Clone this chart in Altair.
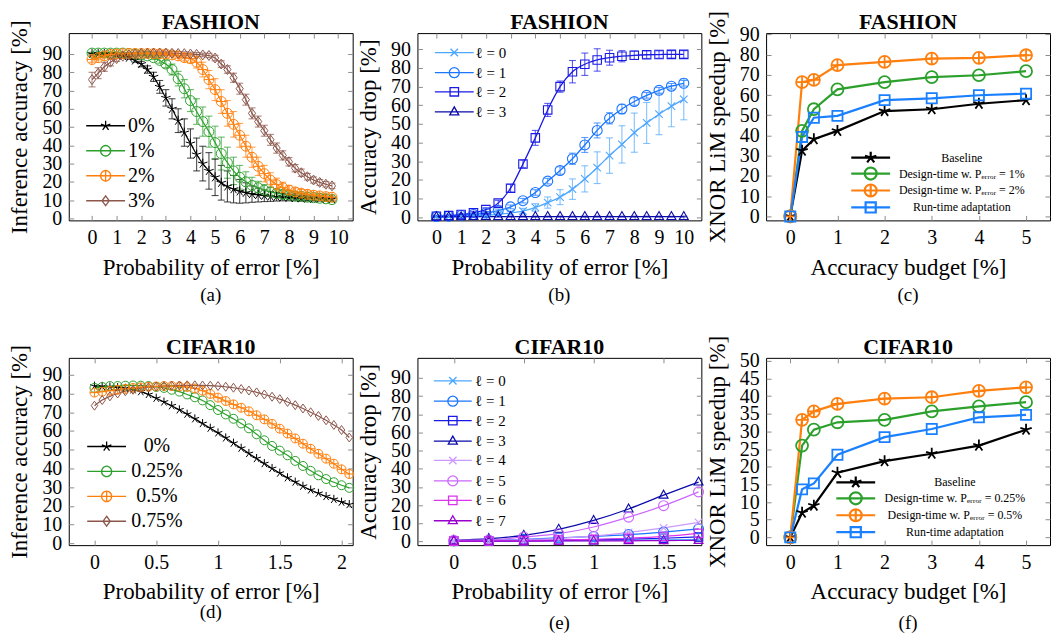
import altair as alt
import pandas as pd

FONT = "Liberation Serif"
W, H = 285, 188
TICK = 5

# ---------------- data ----------------
XA = [0, 0.25, 0.5, 0.75, 1, 1.25, 1.5, 1.75, 2, 2.25, 2.5, 2.75, 3, 3.25, 3.5, 3.75,
      4, 4.25, 4.5, 4.75, 5, 5.25, 5.5, 5.75, 6, 6.25, 6.5, 6.75, 7, 7.25, 7.5, 7.75,
      8, 8.25, 8.5, 8.75, 9, 9.25, 9.5, 9.75]
A_NAMES = ["0%", "1%", "2%", "3%"]
A0 = [90, 90, 90, 90, 89.5, 89, 88, 86.5, 84.5, 81.5, 77.5, 72, 66, 60, 53.5, 47, 41, 35, 30, 26,
      22.5, 19.5, 17.5, 16, 14.8, 14, 13.3, 12.8, 12.4, 12, 11.8, 11.6, 11.4, 11.2, 11, 10.9, 10.8, 10.7, 10.6, 10.5]
A0E = [0.5, 0.5, 0.5, 0.5, 0.6, 0.7, 0.8, 1.0, 1.5, 2, 2.5, 3.5, 4.5, 5.5, 6.5, 7.5, 8, 9, 9.5, 10,
       10, 9.5, 8.5, 7.5, 6.5, 5.5, 4.5, 3.8, 3.2, 2.7, 2.3, 2, 1.8, 1.6, 1.5, 1.4, 1.3, 1.2, 1.2, 1.1]
A1 = [90.5, 90.5, 90.5, 90.5, 90.5, 90.5, 90.3, 90, 89.5, 89, 88, 86.5, 84.5, 81.5, 76.5, 71, 64.5, 58.5, 53, 47.5,
      41.5, 35.5, 30.5, 26, 22.5, 20, 18, 16.8, 15.5, 14.5, 13.8, 13.2, 12.7, 12.3, 12, 11.6, 11.3, 11, 10.7, 10.3]
A1E = [0.5, 0.5, 0.5, 0.5, 0.5, 0.5, 0.5, 0.5, 0.6, 0.8, 1, 1.5, 2, 3, 4, 5, 6, 7, 8, 8.5,
       9, 9, 8.5, 7.5, 6.5, 5.5, 4.5, 3.5, 3, 2.5, 2.2, 2, 1.8, 1.6, 1.5, 1.4, 1.3, 1.2, 1.2, 1.1]
A2 = [87, 88, 89, 89.7, 90, 90.2, 90.3, 90.3, 90.3, 90.3, 90.2, 90.1, 90, 89.5, 89, 88, 87.5, 85.5, 81.5, 76,
      70.5, 64, 57.5, 51.5, 45.5, 39.5, 33.5, 28.5, 24.5, 21, 18.5, 16.8, 15.5, 14.5, 13.8, 13.2, 12.7, 12.3, 11.9, 11.6]
A2E = [1.5, 1.2, 1, 0.8, 0.6, 0.5, 0.5, 0.5, 0.5, 0.5, 0.6, 0.7, 0.8, 1, 1.3, 1.8, 2.5, 3.2, 4, 5,
       6, 6.5, 7, 7, 6.5, 6, 5.5, 5, 4.5, 4, 3.5, 3, 2.5, 2.2, 2, 1.8, 1.6, 1.5, 1.4, 1.3]
A3 = [76, 79.5, 83, 85.5, 87.5, 88.8, 89.5, 90, 90.3, 90.4, 90.5, 90.5, 90.5, 90.4, 90.3, 90.2, 90, 89.8, 89.5, 89.2,
      87.8, 84.5, 81.5, 77, 71, 65, 57.5, 53, 48, 43, 38.5, 34.5, 31, 27.5, 25, 22.8, 21, 19.7, 18.7, 17.8]
A3E = [4, 3, 2.5, 2, 1.5, 1.2, 1, 1, 1, 1, 1, 1, 1, 1, 1, 1, 1, 1, 1, 1.2,
       1.5, 1.8, 2, 2.5, 3, 3, 3, 3, 3, 3, 2.8, 2.5, 2.3, 2, 2, 1.8, 1.7, 1.6, 1.5, 1.5]

XB = [0, 0.5, 1, 1.5, 2, 2.5, 3, 3.5, 4, 4.5, 5, 5.5, 6, 6.5, 7, 7.5, 8, 8.5, 9, 9.5, 10]
B_NAMES = ["ℓ = 0", "ℓ = 1", "ℓ = 2", "ℓ = 3"]
B0 = [0.2, 0.3, 0.5, 0.7, 1.0, 1.5, 2.2, 3.2, 5.2, 7.8, 10.7, 15, 20.5, 26.5, 33, 39, 45.3, 50.5, 55.2, 59.5, 63.2]
B0E = [0.2, 0.2, 0.3, 0.4, 0.5, 0.7, 1, 1.5, 2, 3, 4, 5.5, 7, 8.5, 9.5, 10, 10.5, 11, 11, 11, 11]
B1 = [0.3, 0.5, 0.9, 1.4, 2.2, 3.5, 5.5, 8.8, 13.2, 19.3, 25, 31.3, 38.7, 46.5, 53, 58, 62, 65.3, 68, 70.2, 71.8]
B1E = [0.3, 0.3, 0.4, 0.5, 0.6, 0.8, 1, 1.2, 1.5, 1.5, 2, 3, 4, 4, 3, 2.5, 2, 1.5, 1.5, 1.5, 1.5]
B2 = [0.5, 0.8, 1.4, 2.3, 4.0, 7.5, 15.5, 28.5, 42.5, 57.5, 70, 78, 82, 84.3, 85.5, 86.3, 86.8, 87.1, 87.2, 87.3, 87.3]
B2E = [0.5, 0.5, 0.6, 0.8, 1, 1.5, 2, 2, 4, 3.5, 3, 6, 6, 6, 4, 3, 2.2, 2, 2, 2, 2]
B3 = [0.2, 0.2, 0.2, 0.3, 0.3, 0.3, 0.3, 0.3, 0.3, 0.3, 0.3, 0.3, 0.3, 0.3, 0.3, 0.3, 0.3, 0.3, 0.3, 0.3, 0.3]
B3E = [0.2, 0.2, 0.2, 0.2, 0.2, 0.2, 0.2, 0.2, 0.2, 0.2, 0.2, 0.2, 0.2, 0.2, 0.2, 0.2, 0.2, 0.2, 0.2, 0.2, 0.2]

XC = [0, 0.25, 0.5, 1, 2, 3, 4, 5]
C_NAMES = ["Baseline", "Design-time w. Pₑᵣᵣₒᵣ = 1%", "Design-time w. Pₑᵣᵣₒᵣ = 2%", "Run-time adaptation"]
C0 = [0, 32.5, 38.2, 42.3, 52.1, 53, 55.7, 57.5]
C1 = [0, 42.3, 53, 62.8, 66.4, 68.9, 69.8, 71.8]
C2 = [0, 66.4, 67.5, 74.8, 76.4, 78, 78.4, 79.7]
C3 = [0, 39.3, 48.8, 49.7, 57.5, 58.4, 59.9, 60.7]

XD = [0, 0.0625, 0.125, 0.1875, 0.25, 0.3125, 0.375, 0.4375, 0.5, 0.5625, 0.625, 0.6875,
      0.75, 0.8125, 0.875, 0.9375, 1.0, 1.0625, 1.125, 1.1875, 1.25, 1.3125, 1.375, 1.4375,
      1.5, 1.5625, 1.625, 1.6875, 1.75, 1.8125, 1.875, 1.9375, 2.0, 2.0625]
D_NAMES = ["0%", "0.25%", "0.5%", "0.75%"]
D0 = [84, 83.8, 83.5, 83.2, 82.8, 82, 81, 79.5, 77.5, 75.5, 73.5, 71.3, 69, 66.5, 64, 61.5, 59,
      56.3, 53.5, 50.8, 48, 45.3, 42.6, 40, 37.5, 35, 32.7, 30.5, 28.5, 26.7, 25, 23.5, 22, 20.7]
D1 = [83, 83.5, 84, 84, 84.2, 84.3, 84.2, 84, 83.5, 83, 82, 81, 79.5, 78, 76.3, 73.8, 71.2,
      68.8, 66.5, 64, 61.4, 58.2, 55, 52, 49.5, 47, 44, 41.3, 38.7, 36.3, 34.3, 32.6, 31, 29.6]
D2 = [80.5, 81, 81.5, 82, 82.5, 83, 83.3, 83.6, 83.8, 84, 84, 83.8, 83.5, 82.7, 81.5, 79.8, 77.8,
      76, 74.2, 72.4, 70.5, 68.4, 66.2, 63.8, 61.2, 58.6, 56, 53.2, 50.5, 47.8, 45.2, 42.5, 39.5, 37]
D3 = [73.5, 76.5, 78.5, 80, 81.2, 82, 82.8, 83.3, 83.7, 84, 84.2, 84.3, 84.4, 84.4, 84.3, 84.2, 84,
      83.6, 83.1, 82.4, 81.6, 80.6, 79.5, 78.3, 77, 75.5, 73.8, 72, 70, 68, 65.7, 63.2, 60.5, 56.5]

XE = [0, 0.25, 0.5, 0.75, 1, 1.25, 1.5, 1.75]
E_NAMES = ["ℓ = 0", "ℓ = 1", "ℓ = 2", "ℓ = 3", "ℓ = 4", "ℓ = 5", "ℓ = 6", "ℓ = 7"]
E0 = [0.2, 0.2, 0.3, 0.4, 0.5, 0.7, 0.9, 1.2]
E1 = [0.3, 0.6, 1.2, 2.0, 2.8, 3.8, 5.2, 6.9]
E2 = [0.2, 0.3, 0.5, 0.7, 1.0, 1.3, 1.8, 2.5]
E3 = [0.7, 1.6, 3.4, 6.7, 11.6, 17.9, 25.5, 32.7]
E4 = [0.3, 0.5, 1.0, 1.8, 3.0, 5.0, 7.5, 10.5]
E5 = [0.7, 0.8, 2.5, 4.3, 8.0, 13.4, 19.7, 27.3]
E6 = [0.2, 0.3, 0.5, 0.8, 1.2, 1.8, 2.8, 4.5]
E7 = [0.2, 0.2, 0.2, 0.3, 0.3, 0.4, 0.5, 0.6]

XF = [0, 0.25, 0.5, 1, 2, 3, 4, 5]
F_NAMES = ["Baseline", "Design-time w. Pₑᵣᵣₒᵣ = 0.25%", "Design-time w. Pₑᵣᵣₒᵣ = 0.5%", "Run-time adaptation"]
F0 = [0, 7, 9, 18.3, 21.6, 23.7, 26, 30.5]
F1 = [0, 26, 30.5, 32.6, 33.3, 35.7, 37.1, 38.3]
F2 = [0, 33.3, 35.7, 37.8, 39.3, 39.7, 41.5, 42.5]
F3 = [0, 13.6, 15.3, 23.4, 28.4, 30.7, 34, 34.7]

TICKS_0_10 = [0, 1, 2, 3, 4, 5, 6, 7, 8, 9, 10]
TICKS_0_5 = [0, 1, 2, 3, 4, 5]
TICKS_D = [0, 0.5, 1, 1.5, 2]
TICKS_E = [0, 0.5, 1, 1.5]
TICKS_Y90 = [0, 10, 20, 30, 40, 50, 60, 70, 80, 90]
TICKS_Y50 = [0, 5, 10, 15, 20, 25, 30, 35, 40, 45, 50]


# ---------------- marker paths ----------------
def n(v):
    v = round(v, 3)
    if v == 0:
        v = 0.0
    return f"{v:g}"


def circle_p(r, o=0.0):
    return (f"M{n(o + r)},0A{n(r)},{n(r)},0,1,1,{n(o - r)},0"
            f"A{n(r)},{n(r)},0,1,1,{n(o + r)},0Z")


def oplus_p(r, o=0.0):
    return circle_p(r, o) + f"M{n(o - r)},0L{n(o + r)},0M{n(o)},{n(-r)}L{n(o)},{n(r)}"


def square_p(r, o=0.0):
    r = r * 0.85
    return f"M{n(o - r)},{n(-r)}L{n(o + r)},{n(-r)}L{n(o + r)},{n(r)}L{n(o - r)},{n(r)}Z"


def diamond_p(r, o=0.0):
    return f"M{n(o)},{n(-r)}L{n(o + 0.72 * r)},0L{n(o)},{n(r)}L{n(o - 0.72 * r)},0Z"


def triangle_p(r, o=0.0):
    return f"M{n(o)},{n(-r)}L{n(o + 0.9 * r)},{n(0.6 * r)}L{n(o - 0.9 * r)},{n(0.6 * r)}Z"


def cross_p(r, o=0.0):
    x = 0.75 * r
    return f"M{n(o - x)},{n(-x)}L{n(o + x)},{n(x)}M{n(o - x)},{n(x)}L{n(o + x)},{n(-x)}"


def star_p(r, o=0.0):
    rays = [(0, -1), (0.951, -0.309), (0.588, 0.809), (-0.588, 0.809), (-0.951, -0.309)]
    return "".join(f"M{n(o)},0L{n(o + a * r)},{n(b * r)}" for a, b in rays)


MK = {"circle": circle_p, "oplus": oplus_p, "square": square_p, "diamond": diamond_p,
      "triangle": triangle_p, "cross": cross_p, "star": star_p}


def legend_paths(marks, L, u, size_px, r):
    cx = size_px / 2.0
    x0, x1, mx = -cx / u, (L - cx) / u, (L / 2.0 - cx) / u
    return [f"M{n(x0)},0L{n(x1)},0" + MK[m](r / u, mx) for m in marks]


def panel(title, title_dy, caption, cap_dy, xs, names, ys, errs, colors, marks, xdom, ydom,
          xticks, yticks, xfmt, yfmt, xtitle, ytitle, lw, msize, msw, interp, leg):
    rows = []
    for k, name in enumerate(names):
        for i, x in enumerate(xs):
            e = errs[k][i] if errs else 0
            rows.append({"x": x, "v": ys[k][i], "lo": ys[k][i] - e, "hi": ys[k][i] + e, "s": name})
    df = pd.DataFrame(rows)
    xsc = alt.Scale(domain=xdom, nice=False, zero=False)
    ysc = alt.Scale(domain=ydom, nice=False, zero=False)
    xax = alt.Axis(values=xticks, format=xfmt, title=xtitle)
    yax = alt.Axis(values=yticks, format=yfmt, title=ytitle)

    def X():
        return alt.X("x:Q", scale=xsc, axis=xax, title=xtitle)

    def Y(f):
        return alt.Y(f, scale=ysc, axis=yax, title=ytitle)

    def col(legend=None):
        return alt.Color("s:N", scale=alt.Scale(domain=names, range=colors), legend=legend)

    base = alt.Chart(df)
    layers = []
    if errs:
        layers.append(base.mark_errorbar(ticks=alt.MarkConfig(size=7, opacity=0.7),
                                         rule=alt.MarkConfig(opacity=0.7), thickness=1.1).encode(
            x=X(), y=Y("lo:Q"), y2="hi:Q", color=col()))
    layers.append(base.mark_line(strokeWidth=lw, interpolate=interp).encode(
        x=X(), y=Y("v:Q"), color=col()))
    layers.append(base.mark_point(filled=False, size=msize, strokeWidth=msw, opacity=1).encode(
        x=X(), y=Y("v:Q"), color=col(),
        shape=alt.Shape("s:N", scale=alt.Scale(domain=names, range=[MK[m](1.0) for m in marks]),
                        legend=None)))
    fs, sw = leg["fs"], leg["sw"]
    u = leg["u"]
    size_px = max(int(-(-(2 * u + sw) // 1)), fs)
    L = alt.Legend(title=None, orient="none", legendX=leg["x"], legendY=leg["y"],
                   symbolSize=(2 * u) ** 2, symbolStrokeWidth=sw,
                   labelFont=FONT, labelFontSize=fs, labelOffset=leg["lab"] - size_px,
                   labelAlign=leg["align"], rowPadding=leg["rp"], padding=0, labelLimit=400,
                   labelColor="black")
    paths = legend_paths(marks, leg["len"], u, size_px, leg["r"])
    layers.append(alt.Chart(pd.DataFrame({"s": names})).transform_filter("false").mark_point(
        filled=False, opacity=1, strokeWidth=sw).encode(
        color=col(L),
        shape=alt.Shape("s:N", scale=alt.Scale(domain=names, range=paths), legend=L)))
    layers.append(alt.Chart(pd.DataFrame({"c": [caption]})).mark_text(
        font=FONT, fontSize=19, baseline="middle", align="center", color="black").encode(
        text="c:N", x=alt.value(W / 2), y=alt.value(H + cap_dy)))
    layers.append(alt.Chart(pd.DataFrame({"t": [title]})).mark_text(
        font=FONT, fontSize=22, fontWeight="bold", baseline="middle", align="center",
        color="black").encode(text="t:N", x=alt.value(W / 2), y=alt.value(title_dy)))
    return alt.layer(*layers).resolve_scale(color="independent", shape="independent").properties(
        width=W, height=H)


PX = "Probability of error [%]"
AB = "Accuracy budget [%]"

pa = panel("FASHION", -11, "(a)", 75, XA, A_NAMES, [A0, A1, A2, A3], [A0E, A1E, A2E, A3E],
           ["#000000", "#2ca02c", "#ff7f0e", "#8c564b"], ["star", "circle", "oplus", "diamond"],
           [-0.945, 10.59], [-1.1, 101.45], TICKS_0_10, TICKS_Y90, "d", "d",
           PX, "Inference accuracy [%]", 1.2, 100, 1.0, "monotone",
           dict(x=17.5, y=83, len=39, u=9, sw=1.3, fs=20, lab=42, align="left", rp=5.1, r=5))
pb = panel("FASHION", -11, "(b)", 75, XB, B_NAMES, [B0, B1, B2, B3], [B0E, B1E, B2E, B3E],
           ["#4da6ff", "#1a75ff", "#1a1ae6", "#0a0aa8"], ["cross", "circle", "square", "triangle"],
           [-0.765, 10.71], [-1.76, 98.7], TICKS_0_10, TICKS_Y90, "d", "d",
           PX, "Accuracy drop [%]", 1.3, 100, 1.1, "monotone",
           dict(x=17.5, y=12, len=39, u=6.5, sw=1.3, fs=15, lab=41, align="left", rp=3.2, r=5))
pc = panel("FASHION", -11, "(c)", 75, XC, C_NAMES, [C0, C1, C2, C3], None,
           ["#000000", "#2ca02c", "#ff7f0e", "#1a80ff"], ["star", "circle", "oplus", "square"],
           [-0.513, 5.508], [-1.97, 90.64], TICKS_0_5, TICKS_Y90, "d", "d",
           AB, "XNOR LiM speedup [%]", 2.2, 144, 1.8, "linear",
           dict(x=85.5, y=119, len=39, u=4.5, sw=2.2, fs=12, lab=111, align="center", rp=-7.6, r=6))
pd_ = panel("CIFAR10", -11, "(d)", 67, XD, D_NAMES, [D0, D1, D2, D3], None,
            ["#000000", "#2ca02c", "#ff7f0e", "#8c564b"], ["star", "circle", "oplus", "diamond"],
            [-0.208, 2.09], [-1.0, 99.05], TICKS_D, TICKS_Y90, "~g", "d",
            PX, "Inference accuracy [%]", 1.2, 81, 1.0, "monotone",
            dict(x=18.5, y=79, len=39, u=9, sw=1.3, fs=20, lab=70, align="center", rp=5, r=5))
pe = panel("CIFAR10", -11, "(e)", 78, XE, E_NAMES, [E0, E1, E2, E3, E4, E5, E6, E7], None,
           ["#4da6ff", "#1a75ff", "#1a1ae6", "#0a0aa8", "#cc99ff", "#cc66ff", "#dd33ee", "#9900cc"],
           ["cross", "circle", "square", "triangle", "cross", "circle", "square", "triangle"],
           [-0.26, 1.77], [-2.0, 101.0], TICKS_E, TICKS_Y90, "~g", "d",
           PX, "Accuracy drop [%]", 1.2, 100, 1.1, "monotone",
           dict(x=16.5, y=15.5, len=38, u=6.5, sw=1.3, fs=15, lab=41.5, align="left", rp=3.5, r=5))
pf = panel("CIFAR10", -11, "(f)", 78, XF, F_NAMES, [F0, F1, F2, F3], None,
           ["#000000", "#2ca02c", "#ff7f0e", "#1a80ff"], ["star", "circle", "oplus", "square"],
           [-0.513, 5.508], [-2.2, 50.85], TICKS_0_5, TICKS_Y50, "d", "d",
           AB, "XNOR LiM speedup [%]", 2.2, 144, 1.8, "linear",
           dict(x=70.5, y=119, len=39, u=4.5, sw=2.2, fs=12, lab=119, align="center", rp=-7.6, r=6))

chart = alt.concat(pa, pb, pc, pd_, pe, pf, columns=3, spacing={"row": 138, "column": 65},
                   bounds="flush").properties(
    padding={"left": 0, "top": 0, "right": 0, "bottom": 0}
).configure_view(stroke="black", strokeWidth=1).configure_axis(
    labelFont=FONT, titleFont=FONT, labelFontSize=20, titleFontSize=23, titleFontWeight="normal",
    labelColor="black", titleColor="black", domain=False, ticks=False, tickSize=0, grid=True,
    gridColor="#8c8c8c", gridWidth=1, labelFlush=False, labelOverlap=False, labelBound=False
).configure_axisX(
    gridDash=[TICK, H - 2 * TICK, TICK, 0], labelPadding=7, titlePadding=9
).configure_axisY(
    gridDash=[TICK, W - 2 * TICK, TICK, 0], labelPadding=7, titlePadding=10
).configure_legend(labelFont=FONT, labelColor="black")

chart.save("out.html", embed_options={"renderer": "svg", "actions": False})
